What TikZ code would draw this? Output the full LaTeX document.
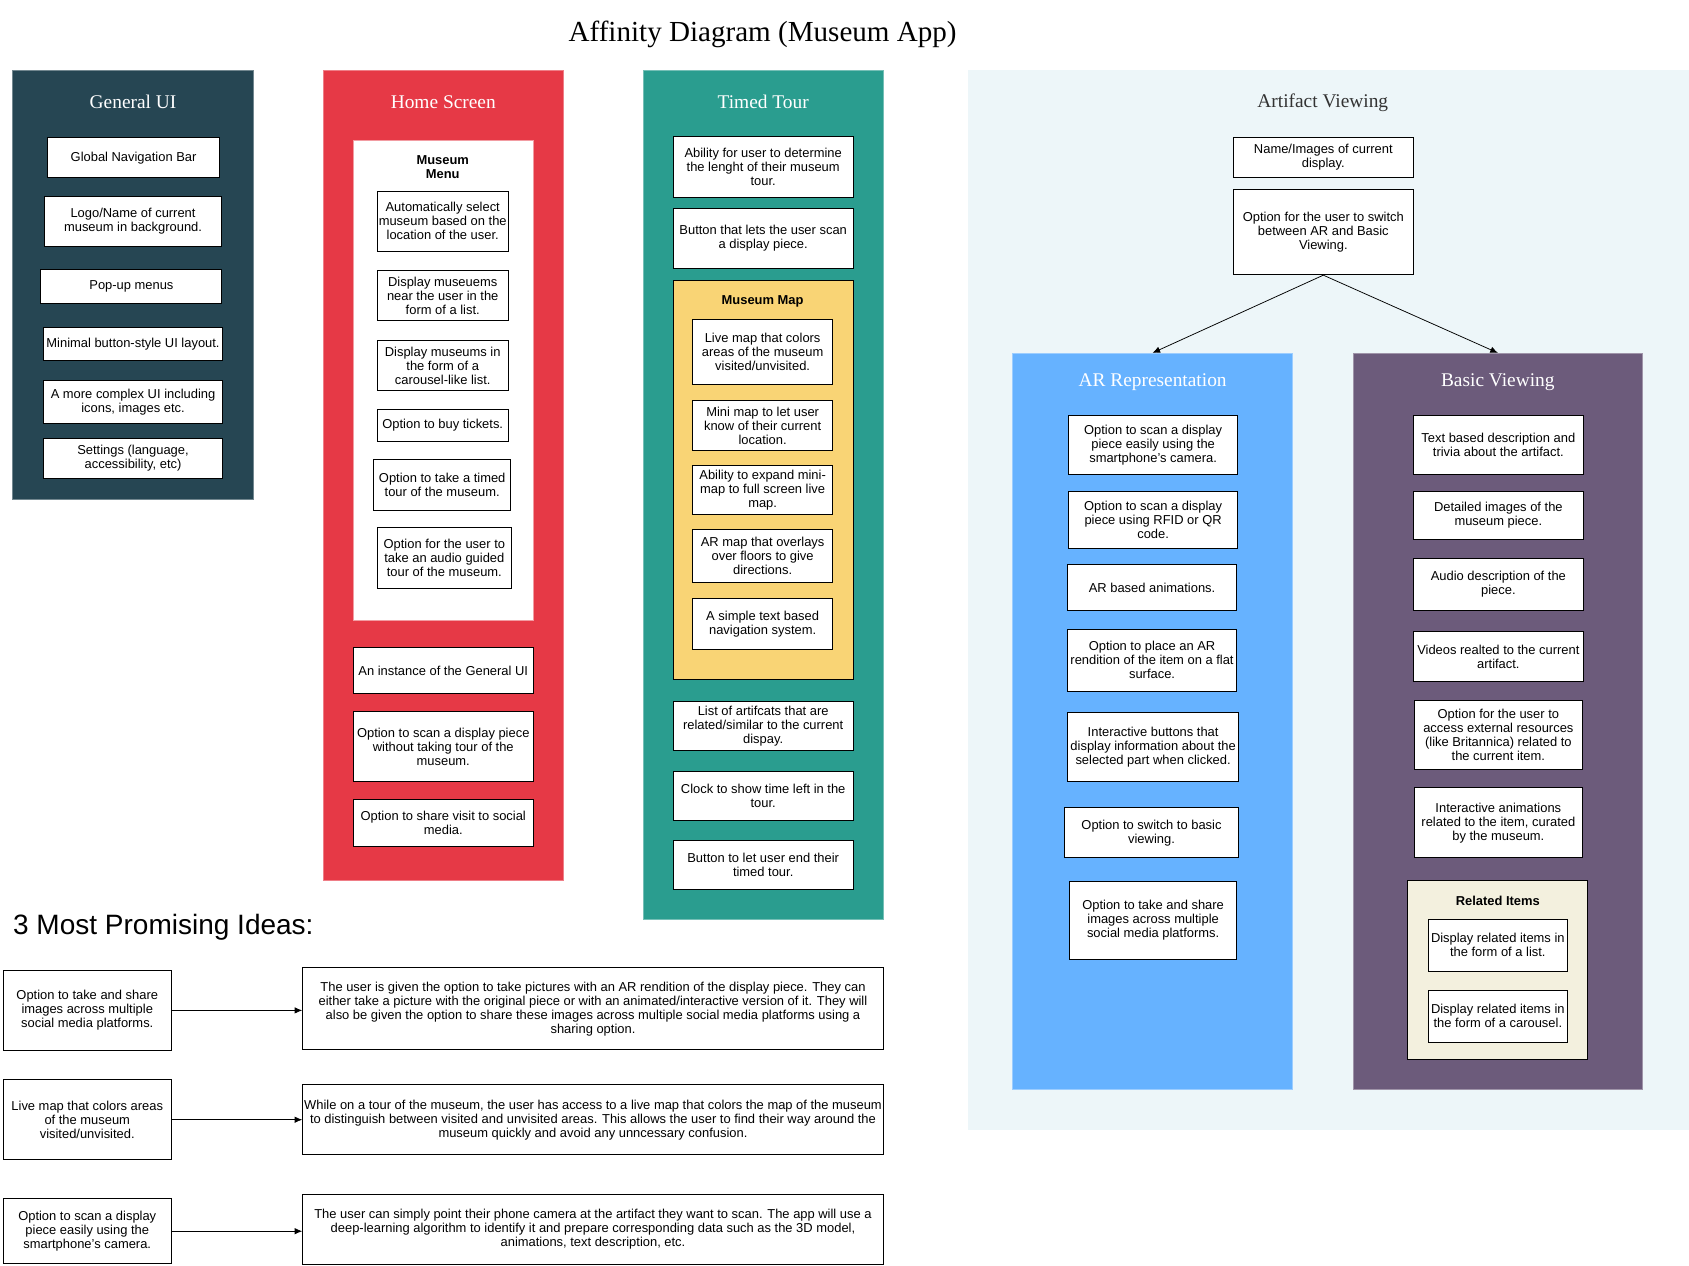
\documentclass[tikz,border=0pt]{standalone}
\usepackage{fontspec}
\setmainfont{Liberation Serif}
\setsansfont{Liberation Sans}
\usetikzlibrary{arrows.meta}
\definecolor{guiC}{HTML}{264653}
\definecolor{homeC}{HTML}{E63946}
\definecolor{tourC}{HTML}{2A9D8F}
\definecolor{mapC}{HTML}{F9D475}
\definecolor{artC}{HTML}{EDF6F9}
\definecolor{arC}{HTML}{66B2FF}
\definecolor{basicC}{HTML}{6C5B7B}
\definecolor{relC}{HTML}{F3F0DE}
\begin{document}
\begin{tikzpicture}[x=1pt,y=-1pt,
  wh/.style 2 args={minimum width=#1pt, minimum height=#2pt},
  box/.style={draw=black, fill=white, line width=0.9pt, align=center, inner sep=1pt,
    font=\sffamily\fontsize{12}{13}\selectfont},
  panel/.style={draw=#1!65!white, fill=#1, line width=0.8pt, inner sep=0pt},
  ptitle/.style={font=\rmfamily\fontsize{18}{20}\selectfont, text=white},
  glabel/.style={font=\sffamily\bfseries\fontsize{12}{13}\selectfont, align=center},
  arr/.style={-{Latex[length=7pt,width=6pt]}, line width=0.7pt, black}]
\useasboundingbox (0,0) rectangle (1568,1175);
\fill[white] (0,0) rectangle (1568,1175);

\node[font=\rmfamily\fontsize{27}{30}\selectfont] (title) at (708,32) {Affinity Diagram (Museum App)};

% General UI
\node[panel=guiC, wh={223}{399}] (gui) at (123.5,264.5) {};
\node[ptitle] (guit) at (123.5,95) {General UI};
\node[box, wh={160}{37}] (g1) at (124,146.5) {Global Navigation Bar};
\node[box, wh={165}{47}] (g2) at (123.5,205.5) {Logo/Name of current\\museum in background.};
\node[box, wh={168}{32}] (g3) at (122,266) {Pop-up menus};
\node[box, wh={167}{31}] (g4) at (123.5,319.5) {Minimal button-style UI layout.};
\node[box, wh={167}{40}] (g5) at (123.5,373) {A more complex UI including\\icons, images etc.};
\node[box, wh={167}{37}] (g6) at (123.5,425.5) {Settings (language,\\accessibility, etc)};

% Home Screen
\node[panel=homeC, wh={223}{752}] (home) at (411.5,441) {};
\node[ptitle] (homet) at (411.5,95) {Home Screen};
\node[draw=homeC!50!white, fill=white, line width=0.8pt, wh={167}{446}] (menu) at (411.5,353) {};
\node[glabel] (menut) at (411,155) {Museum\\Menu};
\node[box, wh={122}{56}] (h1) at (411,205.5) {Automatically select\\museum based on the\\location of the user.};
\node[box, wh={122}{46}] (h2) at (411,274.5) {Display museuems\\near the user in the\\form of a list.};
\node[box, wh={122}{46}] (h3) at (411,339.5) {Display museums in\\the form of a\\carousel-like list.};
\node[box, wh={122}{29}] (h4) at (411,395) {Option to buy tickets.};
\node[box, wh={127}{47}] (h5) at (410.5,450) {Option to take a timed\\tour of the museum.};
\node[box, wh={125}{57}] (h6) at (412.5,518) {Option for the user to\\take an audio guided\\tour of the museum.};
\node[box, wh={167}{42}] (h7) at (411.5,622.5) {An instance of the General UI};
\node[box, wh={167}{65}] (h8) at (411.5,693) {Option to scan a display piece\\without taking tour of the\\museum.};
\node[box, wh={167}{43}] (h9) at (411.5,764) {Option to share visit to social\\media.};

% Timed Tour
\node[panel=tourC, wh={223}{789}] (tour) at (708.5,459.5) {};
\node[ptitle] (tourt) at (708.5,95) {Timed Tour};
\node[box, wh={167}{56}] (t1) at (708.5,155) {Ability for user to determine\\the lenght of their museum\\tour.};
\node[box, wh={167}{55}] (t2) at (708.5,221.5) {Button that lets the user scan\\a display piece.};
\node[draw=black, fill=mapC, line width=0.9pt, wh={167}{371}] (map) at (708.5,445.5) {};
\node[glabel] (mapt) at (708,280) {Museum Map};
\node[box, wh={130}{60}] (m1) at (708,327) {Live map that colors\\areas of the museum\\visited/unvisited.};
\node[box, wh={130}{46}] (m2) at (708,395) {Mini map to let user\\know of their current\\location.};
\node[box, wh={130}{46}] (m3) at (708,455) {Ability to expand mini-\\map to full screen live\\map.};
\node[box, wh={130}{49}] (m4) at (708,516.5) {AR map that overlays\\over floors to give\\directions.};
\node[box, wh={130}{47}] (m5) at (708,579.5) {A simple text based\\navigation system.};
\node[box, wh={167}{46}] (t3) at (708.5,674) {List of artifcats that are\\related/similar to the current\\dispay.};
\node[box, wh={167}{46}] (t4) at (708.5,739) {Clock to show time left in the\\tour.};
\node[box, wh={167}{46}] (t5) at (708.5,803) {Button to let user end their\\timed tour.};

% Artifact Viewing
\node[fill=artC, inner sep=0pt, wh={669}{984}] (art) at (1233.5,557) {};
\node[font=\rmfamily\fontsize{18}{20}\selectfont, text=black!80] (artt) at (1228,95) {Artifact Viewing};
\node[box, wh={167}{37}] (a1) at (1228.5,146) {Name/Images of current\\display.};
\node[box, wh={167}{79}] (a2) at (1228.5,215.5) {Option for the user to switch\\between AR and Basic\\Viewing.};

\node[panel=arC, wh={260}{683}] (ar) at (1070,669.5) {};
\node[ptitle] (art2) at (1070,355) {AR Representation};
\node[box, wh={157}{55}] (r1) at (1070.5,413) {Option to scan a display\\piece easily using the\\smartphone's camera.};
\node[box, wh={157}{53}] (r2) at (1070.5,483) {Option to scan a display\\piece using RFID or QR\\code.};
\node[box, wh={157}{42}] (r3) at (1069.5,545.5) {AR based animations.};
\node[box, wh={157}{57}] (r4) at (1069.5,613) {Option to place an AR\\rendition of the item on a flat\\surface.};
\node[box, wh={159}{64}] (r5) at (1070.5,693.5) {Interactive buttons that\\display information about the\\selected part when clicked.};
\node[box, wh={162}{47}] (r6) at (1069,773) {Option to switch to basic\\viewing.};
\node[box, wh={155}{72}] (r7) at (1070.5,854.5) {Option to take and share\\images across multiple\\social media platforms.};

\node[panel=basicC, wh={269}{683}] (basic) at (1390.5,669.5) {};
\node[ptitle] (basict) at (1390.5,355) {Basic Viewing};
\node[box, wh={158}{55}] (b1) at (1391,413) {Text based description and\\trivia about the artifact.};
\node[box, wh={158}{44}] (b2) at (1391,478.5) {Detailed images of the\\museum piece.};
\node[box, wh={158}{48}] (b3) at (1391,542.5) {Audio description of the\\piece.};
\node[box, wh={158}{46}] (b4) at (1391,609.5) {Videos realted to the current\\artifact.};
\node[box, wh={156}{64}] (b5) at (1391,682.5) {Option for the user to\\access external resources\\(like Britannica) related to\\the current item.};
\node[box, wh={156}{65}] (b6) at (1391,764) {Interactive animations\\related to the item, curated\\by the museum.};
\node[draw=black, fill=relC, line width=0.9pt, wh={167}{167}] (rel) at (1390.5,900.5) {};
\node[glabel] (relt) at (1390.5,836) {Related Items};
\node[box, wh={129}{48}] (i1) at (1390.5,877.5) {Display related items in\\the form of a list.};
\node[box, wh={129}{48}] (i2) at (1390.5,943.5) {Display related items in\\the form of a carousel.};

\draw[arr] (a2.south) -- (ar.north);
\draw[arr] (a2.south) -- (basic.north);

% Promising ideas
\node[anchor=west, font=\sffamily\fontsize{26}{28}\selectfont, inner sep=0pt] (ideas) at (12,861) {3 Most Promising Ideas:};
\node[box, wh={156}{74}] (p1) at (81,938) {Option to take and share\\images across multiple\\social media platforms.};
\node[box, wh={539}{76}] (d1) at (550.5,936.5) {The user is given the option to take pictures with an AR rendition of the display piece. They can\\either take a picture with the original piece or with an animated/interactive version of it. They will\\also be given the option to share these images across multiple social media platforms using a\\sharing option.};
\node[box, wh={156}{74}] (p2) at (81,1039.5) {Live map that colors areas\\of the museum\\visited/unvisited.};
\node[box, wh={539}{65}] (d2) at (550.5,1039.5) {While on a tour of the museum, the user has access to a live map that colors the map of the museum\\to distinguish between visited and unvisited areas. This allows the user to find their way around the\\museum quickly and avoid any unncessary confusion.};
\node[box, wh={156}{60}] (p3) at (81,1143) {Option to scan a display\\piece easily using the\\smartphone's camera.};
\node[box, wh={539}{65}] (d3) at (550.5,1141.5) {The user can simply point their phone camera at the artifact they want to scan. The app will use a\\deep-learning algorithm to identify it and prepare corresponding data such as the 3D model,\\animations, text description, etc.};
\draw[arr] (p1.east) -- (p1.east -| d1.west);
\draw[arr] (p2.east) -- (p2.east -| d2.west);
\draw[arr] (p3.east) -- (p3.east -| d3.west);
\end{tikzpicture}
\end{document}
